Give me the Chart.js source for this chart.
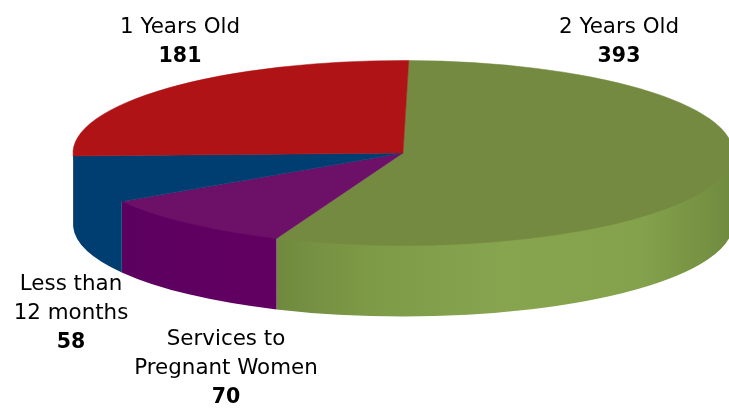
<!DOCTYPE html>
<html>
<head>
<meta charset="utf-8">
<style>
  html, body { margin: 0; padding: 0; background: #fff; overflow: hidden; }
  canvas { display: block; }
</style>
<script src="https://cdn.jsdelivr.net/npm/chart.js@4"></script>
</head>
<body>
<canvas id="pie" width="729" height="409"></canvas>
<script>
const categories = ["2 Years Old", "Services to Pregnant Women", "Less than 12 months", "1 Years Old"];
const values = [393, 70, 58, 181];
const topColors = ["#748a41", "#6c1068", "#003e72", "#b01316"];

// label text is wrapped by hand, one entry per category
const labelLines = [["2 Years Old"], ["Services to", "Pregnant Women"], ["Less than", "12 months"], ["1 Years Old"]];
const labelSpots = [[619, 33], [226, 345], [71, 290], [180, 33]];
const lineHeight = 29;

// look of the flattened pie
const centerX = 403, centerY = 153, radiusX = 330, radiusY = 92.5, depth = 71;

// side wall colours, left to right
const wallStops = [
  [[0, "#6f8a3e"], [0.2, "#7d9a47"], [0.5, "#87a54f"], [0.8, "#84a24c"], [1, "#6f8a3e"]],
  [[0, "#5c0060"], [1, "#620062"]],
  [[0, "#003e72"], [1, "#003e72"]],
  [[0, "#8c0d10"], [1, "#8c0d10"]],
];

function drawWall(ctx, arc, stops) {
  // canvas angles, only the part facing the viewer is visible
  const from = Math.max(arc.startAngle, 0);
  const to = Math.min(arc.endAngle, Math.PI);
  if (to <= from) return;
  const x1 = centerX + radiusX * Math.cos(to);
  const x2 = centerX + radiusX * Math.cos(from);
  const grad = ctx.createLinearGradient(x1, 0, x2, 0);
  stops.forEach((s) => grad.addColorStop(s[0], s[1]));
  ctx.beginPath();
  // upper edge sits a little under the top face so no light seam shows
  ctx.ellipse(centerX, centerY - 2, radiusX, radiusY, 0, from, to);
  ctx.ellipse(centerX, centerY + depth, radiusX, radiusY, 0, to, from, true);
  ctx.closePath();
  ctx.fillStyle = grad;
  ctx.fill();
}

const flatPie = {
  id: "flatPie",
  beforeDatasetsDraw(chart) {
    const ctx = chart.ctx;
    const arcs = chart.getDatasetMeta(0).data;
    arcs.forEach((arc, i) => drawWall(ctx, arc, wallStops[i]));
    const r = arcs[0].outerRadius;
    ctx.save();
    ctx.translate(centerX, centerY);
    ctx.scale(radiusX / r, radiusY / r);
    ctx.translate(-arcs[0].x, -arcs[0].y);
  },
  afterDatasetsDraw(chart) {
    chart.ctx.restore();
  },
  afterDraw(chart) {
    const ctx = chart.ctx;
    ctx.save();
    ctx.textAlign = "center";
    ctx.textBaseline = "alphabetic";
    ctx.fillStyle = "#000";
    categories.forEach((c, i) => {
      let y = labelSpots[i][1];
      ctx.font = "21.4px 'DejaVu Sans'";
      labelLines[i].forEach((line) => {
        ctx.fillText(line, labelSpots[i][0], y);
        y += lineHeight;
      });
      ctx.font = "bold 20.5px 'DejaVu Sans'";
      ctx.fillText(values[i], labelSpots[i][0], y);
    });
    ctx.restore();
  },
};

new Chart(document.getElementById("pie"), {
  type: "pie",
  data: {
    labels: categories,
    datasets: [{ data: values, backgroundColor: topColors, borderColor: topColors, borderWidth: 0.5 }],
  },
  options: {
    responsive: false,
    animation: false,
    rotation: 1,
    plugins: { legend: { display: false }, tooltip: { enabled: false } },
  },
  plugins: [flatPie],
});
</script>
</body>
</html>
